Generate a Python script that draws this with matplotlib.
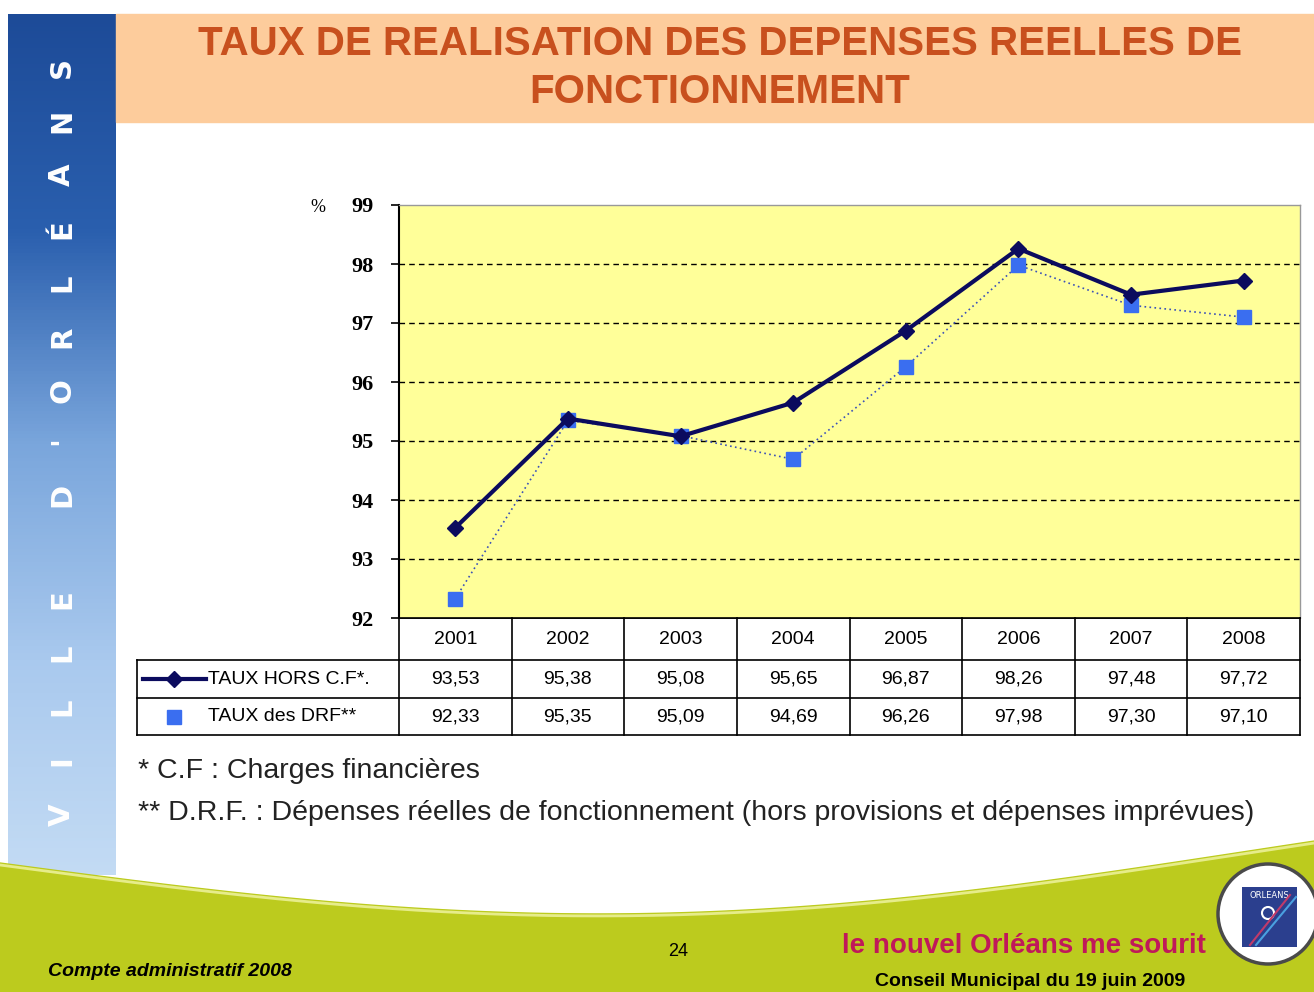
import numpy as np
import matplotlib
matplotlib.use("Agg")
import matplotlib.pyplot as plt
from matplotlib.transforms import blended_transform_factory
from matplotlib.patches import Rectangle, Circle

# Données (taux de réalisation en %)
annees = ["2001", "2002", "2003", "2004", "2005", "2006", "2007", "2008"]
taux_hors_cf = [93.53, 95.38, 95.08, 95.65, 96.87, 98.26, 97.48, 97.72]
taux_drf = [92.33, 95.35, 95.09, 94.69, 96.26, 97.98, 97.30, 97.10]
labels = ["TAUX HORS C.F*.", "TAUX des DRF**"]
yticks = [92, 93, 94, 95, 96, 97, 98, 99]

W, H = 1314, 992
fig = plt.figure(figsize=(W / 100, H / 100), dpi=100)
fig.patch.set_facecolor("white")

# fond (coordonnées en pixels)
bg = fig.add_axes([0, 0, 1, 1], zorder=0)
bg.set_xlim(0, W); bg.set_ylim(H, 0); bg.axis("off")

# bandeau bleu à gauche
grad = np.linspace(0, 1, 256).reshape(-1, 1)
cmap = matplotlib.colors.LinearSegmentedColormap.from_list("ciel", ["#1d4b98", "#2a5fae", "#7aa6dc", "#a9c9ee", "#c3dbf4"])
bg.imshow(grad, cmap=cmap, extent=(8, 116, 875, 14), aspect="auto", zorder=1)
# lettres espacées, lues de bas en haut
vertical = "VILLE D'ORLÉANS"
ypos = 815
for ch in vertical:
    if ch == " ":
        ypos -= 50
        continue
    bg.text(62, ypos, ch, rotation=90, color="white", fontsize=21, fontweight="bold",
            ha="center", va="center", zorder=3)
    ypos -= 54 if ch != "'" else 50

# bandeau titre
bg.add_patch(Rectangle((116, 14), W - 116, 108, color="#fdcc9c", zorder=1))
bg.text(720, 44, "TAUX DE REALISATION DES DEPENSES REELLES DE",
        color="#c8501e", fontsize=29, fontweight="bold", ha="center", va="center",
        family="Liberation Sans", zorder=3)
bg.text(720, 92, "FONCTIONNEMENT",
        color="#c8501e", fontsize=29, fontweight="bold", ha="center", va="center",
        family="Liberation Sans", zorder=3)

# pied de page vert avec courbe
xs = np.linspace(0, W, 200)
curve = 863 + 57 * np.sin(np.pi * xs / W * 1.05) - 13 * xs / W
bg.fill_between(xs, curve, H, color="#bccb1e", zorder=1)
bg.plot(xs, curve + 2, color="#e6ec8a", lw=2, zorder=2)
bg.text(48, 972, "Compte administratif 2008", fontsize=14, fontweight="bold",
        fontstyle="italic", ha="left", va="center", family="Liberation Sans", zorder=3)
bg.text(678, 952, "24", fontsize=13, ha="center", va="center", family="Liberation Sans", zorder=3)
bg.text(1024, 946, "le nouvel Orléans me sourit", fontsize=20, fontweight="bold",
        color="#c0185a", ha="center", va="center", family="Liberation Sans", zorder=3)
bg.text(1030, 982, "Conseil Municipal du 19 juin 2009", fontsize=14, fontweight="bold",
        ha="center", va="center", family="Liberation Sans", zorder=3)

# logo
bg.add_patch(Circle((1268, 914), 50, facecolor="white", edgecolor="#4a4a4a", lw=2.5, zorder=3))
bg.add_patch(Rectangle((1242, 887), 55, 60, facecolor="#2b3f8e", zorder=4))
bg.text(1269, 896, "ORLEANS", color="white", fontsize=6, ha="center", va="center", zorder=5)
bg.add_patch(Circle((1268, 913), 6, facecolor="none", edgecolor="white", lw=1.5, zorder=5))
bg.plot([1250, 1290], [945, 895], color="#c03a6a", lw=1.5, zorder=5)
bg.plot([1256, 1296], [945, 897], color="#4aa0e0", lw=1.5, zorder=5)

# notes
bg.text(138, 771, "* C.F : Charges financières", fontsize=20.5, ha="left", va="center",
        family="Liberation Sans", color="#222222", zorder=3)
bg.text(138, 813, "** D.R.F. : Dépenses réelles de fonctionnement (hors provisions et dépenses imprévues)",
        fontsize=20.5, ha="left", va="center", family="Liberation Sans", color="#222222", zorder=3)

# graphique
x0, x1, ytop, ybot = 399, 1300, 205, 618
ax = fig.add_axes([x0 / W, 1 - ybot / H, (x1 - x0) / W, (ybot - ytop) / H], zorder=2)
ax.set_facecolor("#ffff99")
n = len(annees)
x = np.arange(n)
ax.set_xlim(-0.5, n - 0.5)
ax.set_ylim(92, 99)
ax.set_yticks(yticks)
ax.set_yticklabels([str(v) for v in yticks], family="Liberation Serif", fontweight="bold", fontsize=16)
ax.tick_params(axis="y", direction="out", length=6, width=1.2, pad=12)
ax.set_xticks([])
for v in yticks[1:-1]:
    ax.axhline(v, color="black", ls=(0, (4, 3)), lw=1, zorder=1)
for s in ["top", "right"]:
    ax.spines[s].set_color("#999999")
    ax.spines[s].set_linewidth(1)
ax.spines["left"].set_linewidth(1.5)
ax.spines["bottom"].set_linewidth(1.2)

ax.plot(x, taux_drf, color="#3a50b8", lw=1.2, ls=(0, (1, 2)), marker="s", ms=10,
        mfc="#3a6ef0", mec="#3a6ef0", zorder=3)
ax.plot(x, taux_hors_cf, color="#0b0b5e", lw=3, marker="D", ms=8,
        mfc="#0b0b5e", mec="#0b0b5e", zorder=4)
bg.text(318, 208, "%", fontsize=13, ha="center", va="center", family="Liberation Serif", zorder=3)

# tableau de données sous le graphique
tr = blended_transform_factory(ax.transData, bg.transData)
r0, r1, r2, r3 = 618, 660, 698, 735
lab_x = 137
bg.plot([x0, x1], [r0, r0], color="black", lw=1.2, zorder=3)
for yy in [r1, r2, r3]:
    bg.plot([lab_x, x1], [yy, yy], color="black", lw=1.2, zorder=3)
bg.plot([lab_x, lab_x], [r1, r3], color="black", lw=1.2, zorder=3)
bg.plot([x0, x0], [r0, r3], color="black", lw=1.2, zorder=3)
for i in range(n):
    ax.plot([i + 0.5, i + 0.5], [r0, r3], transform=tr, color="black", lw=1.2, clip_on=False, zorder=5)
    ax.text(i, (r0 + r1) / 2, annees[i], transform=tr, ha="center", va="center",
            fontsize=14, family="Liberation Sans", clip_on=False)
    ax.text(i, (r1 + r2) / 2, f"{taux_hors_cf[i]:.2f}".replace(".", ","), transform=tr,
            ha="center", va="center", fontsize=14, family="Liberation Sans", clip_on=False)
    ax.text(i, (r2 + r3) / 2, f"{taux_drf[i]:.2f}".replace(".", ","), transform=tr,
            ha="center", va="center", fontsize=14, family="Liberation Sans", clip_on=False)

# légendes des lignes du tableau
ym1 = (r1 + r2) / 2
ym2 = (r2 + r3) / 2
bg.plot([143, 206], [ym1, ym1], color="#0b0b5e", lw=3, zorder=3)
bg.plot([174], [ym1], marker="D", ms=8, color="#0b0b5e", zorder=4)
bg.plot([174], [ym2], marker="s", ms=10, color="#3a6ef0", zorder=4)
bg.text(208, ym1, labels[0], fontsize=14, ha="left", va="center", family="Liberation Sans", zorder=3)
bg.text(208, ym2, labels[1], fontsize=14, ha="left", va="center", family="Liberation Sans", zorder=3)

fig.savefig("out.png", dpi=100)
